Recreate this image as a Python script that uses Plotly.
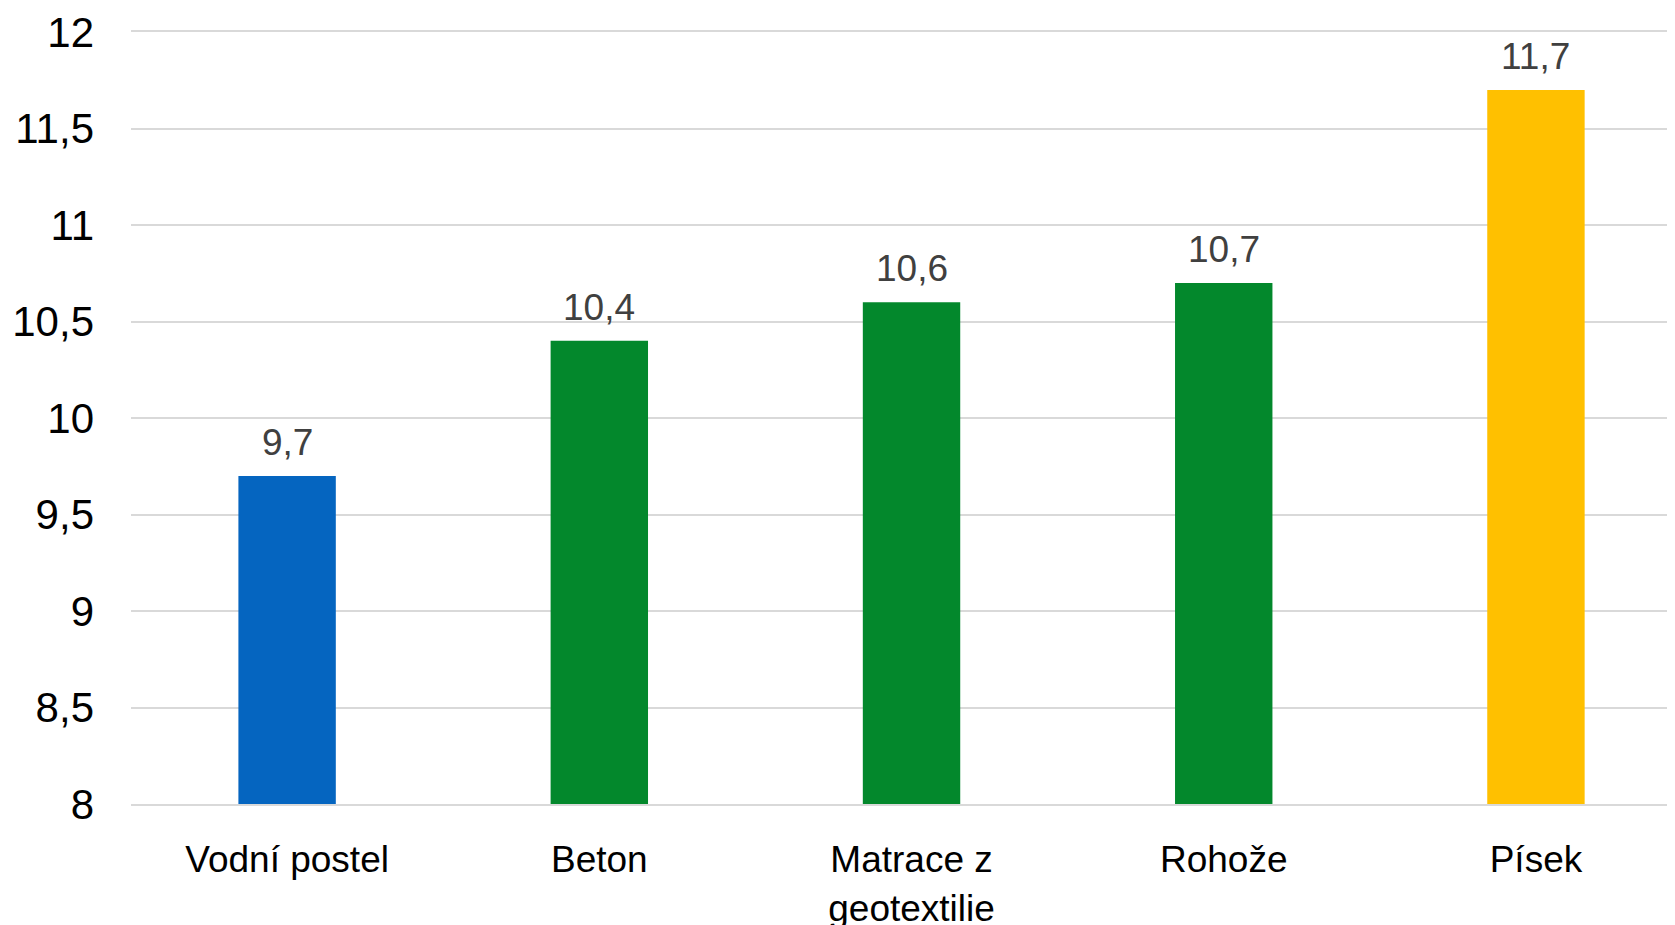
import plotly.graph_objects as go

categories = ["Vodní postel", "Beton", "Matrace z<br>geotextilie", "Rohože", "Písek"]
values = [9.7, 10.4, 10.6, 10.7, 11.7]
labels = ["9,7", "10,4", "10,6", "10,7", "11,7"]
colors = ["#0565C0", "#03882C", "#03882C", "#03882C", "#FFC000"]
y_ticks = [8, 8.5, 9, 9.5, 10, 10.5, 11, 11.5, 12]
y_tick_text = ["8", "8,5", "9", "9,5", "10", "10,5", "11", "11,5", "12"]

FONT = "Liberation Sans, Arial, sans-serif"

fig = go.Figure()
fig.add_trace(go.Bar(
    x=list(range(len(categories))),
    y=values,
    marker=dict(color=colors, line=dict(width=0)),
    width=0.312,
    hoverinfo="skip",
))

for i, (v, t) in enumerate(zip(values, labels)):
    fig.add_annotation(
        x=i, y=v, text=t, showarrow=False, yanchor="bottom", yshift=11,
        font=dict(family=FONT, size=37, color="#404040"),
    )

fig.update_layout(
    width=1675, height=925,
    margin=dict(l=123, r=0, t=24, b=129, pad=0),
    plot_bgcolor="white", paper_bgcolor="white",
    showlegend=False,
    font=dict(family=FONT, color="black"),
    separators=", ",
)
fig.update_xaxes(
    range=[-0.5, 4.471],
    tickmode="array",
    tickvals=list(range(len(categories))),
    ticktext=categories,
    tickfont=dict(family=FONT, size=37, color="black"),
    showgrid=False,
    showline=True, linecolor="#D9D9D9", linewidth=2, mirror=True,
    ticks="outside", ticklen=22, tickcolor="rgba(0,0,0,0)",
)
fig.update_yaxes(
    range=[8, 12],
    tickmode="array",
    tickvals=y_ticks,
    ticktext=y_tick_text,
    tickfont=dict(family=FONT, size=42, color="black"),
    showgrid=True, gridcolor="#D9D9D9", gridwidth=2,
    zeroline=False,
    ticklabelstandoff=36,
)

fig.write_html("out.html")
